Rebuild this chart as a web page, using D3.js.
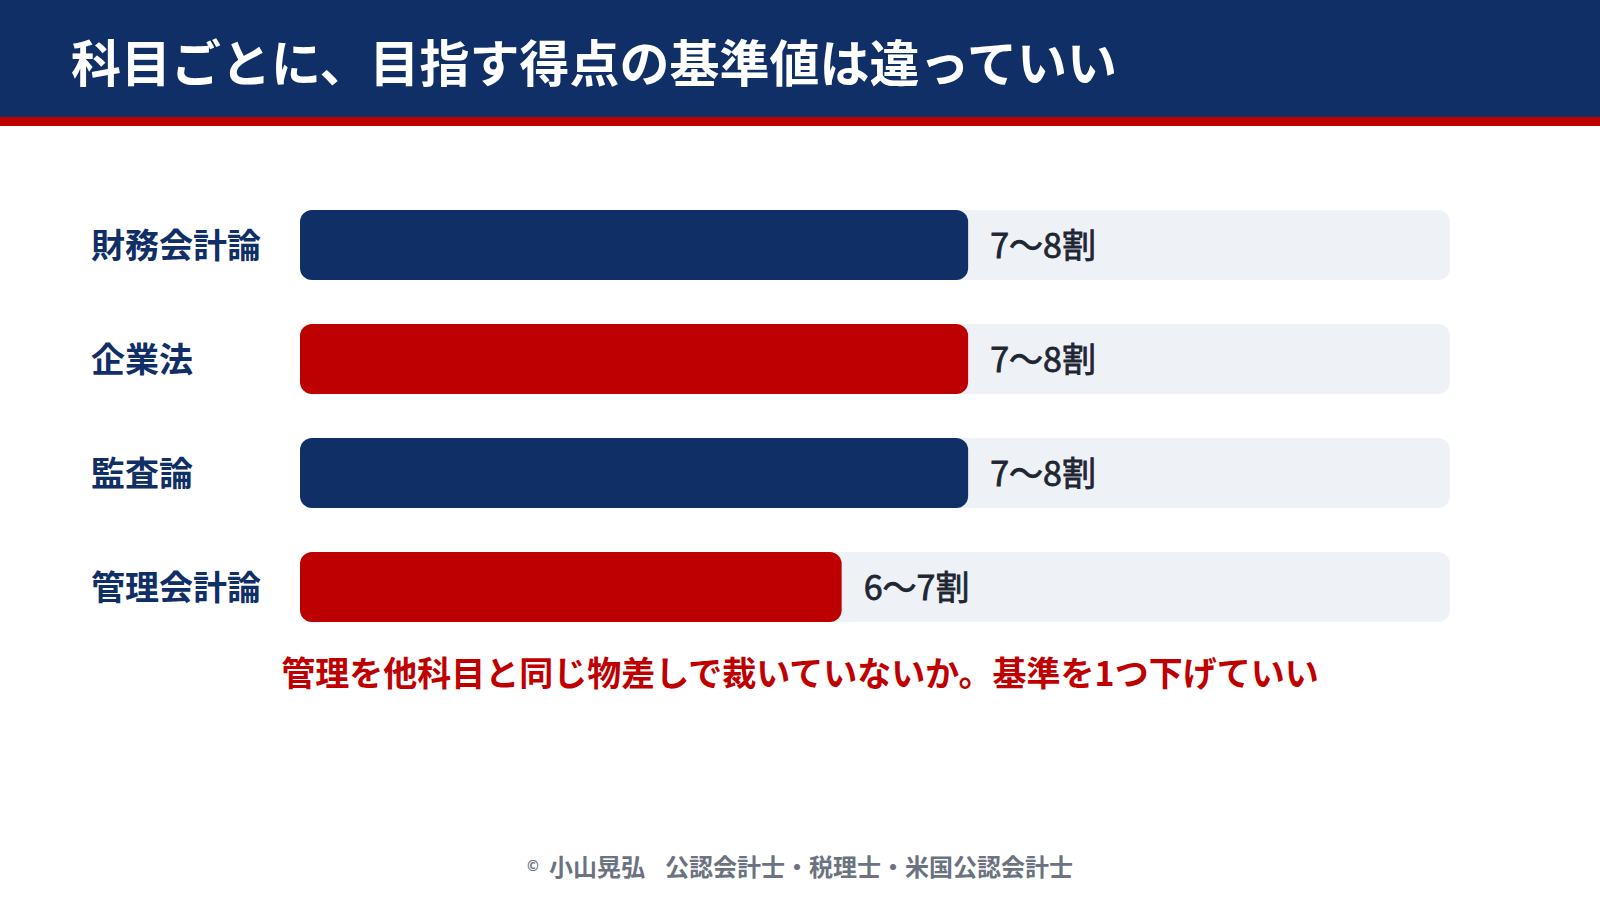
<!DOCTYPE html>
<html lang="ja">
<head>
<meta charset="utf-8">
<script src="https://cdn.jsdelivr.net/npm/d3@7"></script>
<style>
  html, body { margin: 0; padding: 0; background: #ffffff; }
  svg { display: block; }
  text { font-family: "Noto Sans CJK JP", "Noto Sans", sans-serif; }
</style>
</head>
<body>
<svg id="chart" width="1600" height="900"></svg>
<script>
// ---- data ----
const titleText = "科目ごとに、目指す得点の基準値は違っていい";
const categories = ["財務会計論", "企業法", "監査論", "管理会計論"];
const barValues = [58.1, 58.1, 58.1, 47.1];           // bar length as % of track
const valueLabels = ["7〜8割", "7〜8割", "7〜8割", "6〜7割"];
const noteText = "管理を他科目と同じ物差しで裁いていないか。基準を1つ下げていい";
const footerName = "小山晃弘";
const footerRole = "公認会計士・税理士・米国公認会計士";

// ---- styles ----
const NAVY = "#0f2f66", RED = "#bd0000", TRACK = "#eef2f7";
const W = 1600, H = 900;

const svg = d3.select("#chart");
svg.append("rect").attr("width", W).attr("height", H).attr("fill", "#fff");

// header
svg.append("rect").attr("x", 0).attr("y", 0).attr("width", W).attr("height", 117).attr("fill", NAVY);
svg.append("rect").attr("x", 0).attr("y", 117).attr("width", W).attr("height", 9).attr("fill", RED);
svg.append("text")
  .attr("x", 71).attr("y", 60)
  .attr("dominant-baseline", "central")
  .attr("font-size", 50).attr("font-weight", 700)
  .attr("fill", "#fff")
  .text(titleText);

// scales
const data = categories.map((c, i) => ({ cat: c, v: barValues[i], label: valueLabels[i] }));
const y = d3.scaleBand().domain(categories).range([210, 622]).paddingInner(44 / 114).paddingOuter(0);
const x = d3.scaleLinear().domain([0, 100]).range([300, 1450]);
const color = d3.scaleOrdinal().domain(categories).range([NAVY, RED]);

const g = svg.append("g");
const rows = g.selectAll("g.row").data(data).join("g").attr("class", "row");

rows.append("rect")
  .attr("x", x(0)).attr("y", d => y(d.cat))
  .attr("width", x(100) - x(0)).attr("height", y.bandwidth())
  .attr("rx", 12).attr("fill", TRACK);

rows.append("rect")
  .attr("x", x(0)).attr("y", d => y(d.cat))
  .attr("width", d => x(d.v) - x(0)).attr("height", y.bandwidth())
  .attr("rx", 12).attr("fill", d => color(d.cat));

rows.append("text")
  .attr("x", 91).attr("y", d => y(d.cat) + y.bandwidth() / 2 - 2)
  .attr("dominant-baseline", "central")
  .attr("font-size", 34).attr("font-weight", 700).attr("fill", NAVY)
  .text(d => d.cat);

rows.append("text")
  .attr("x", d => x(d.v) + 22).attr("y", d => y(d.cat) + y.bandwidth() / 2 - 2)
  .attr("dominant-baseline", "central")
  .attr("font-size", 34).attr("font-weight", 400).attr("fill", "#1f2633")
  .attr("stroke", "#1f2633").attr("stroke-width", 0.8)
  .text(d => d.label);

// note
svg.append("text")
  .attr("x", 800).attr("y", 671)
  .attr("text-anchor", "middle").attr("dominant-baseline", "central")
  .attr("font-size", 34).attr("font-weight", 700).attr("fill", "#c00000")
  .text(noteText);

// footer
const ft = svg.append("text")
  .attr("x", 800).attr("y", 865)
  .attr("text-anchor", "middle").attr("dominant-baseline", "central")
  .attr("font-size", 24).attr("font-weight", 700).attr("fill", "#6b7280");
ft.append("tspan").attr("font-size", 14).text("©");
ft.append("tspan").attr("dx", 10).text(footerName);
ft.append("tspan").attr("dx", 20).text(footerRole);
</script>
</body>
</html>
